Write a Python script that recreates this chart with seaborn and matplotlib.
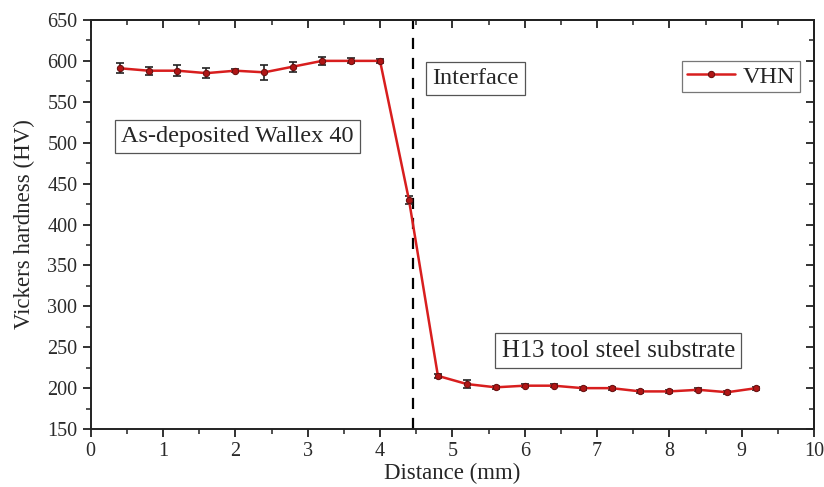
import matplotlib
matplotlib.use("Agg")
import matplotlib.pyplot as plt
import numpy as np
import pandas as pd
import seaborn as sns
from matplotlib.ticker import MultipleLocator

# Microhardness profile across the clad / substrate interface
distance = [0.4, 0.8, 1.2, 1.6, 2.0, 2.4, 2.8, 3.2, 3.6, 4.0, 4.4,
            4.8, 5.2, 5.6, 6.0, 6.4, 6.8, 7.2, 7.6, 8.0, 8.4, 8.8, 9.2]
hardness = [591, 588, 588, 585, 588, 586, 593, 600, 600, 600, 430,
            215, 205, 201, 203, 203, 200, 200, 196, 196, 198, 195, 200]
hv_err = [6, 5, 7, 6, 2, 9, 6, 5, 3, 2, 5,
          2, 5, 2, 2, 2, 2, 2, 2, 2, 2, 2, 2]
interface_x = 4.45

df = pd.DataFrame({"distance": distance, "hardness": hardness, "err": hv_err})

sns.set_theme(style="ticks")
plt.rcParams["font.family"] = ["Liberation Serif", "DejaVu Serif"]

fig, ax = plt.subplots(figsize=(8.24, 4.87), dpi=100)
fig.subplots_adjust(left=0.110, right=0.988, top=0.959, bottom=0.119)

ax.errorbar(df["distance"], df["hardness"], yerr=df["err"], fmt="none",
            ecolor="#222222", elinewidth=1.2, capsize=3, capthick=1.2, zorder=2)
sns.lineplot(data=df, x="distance", y="hardness", ax=ax, color="#d81e1e",
             linewidth=1.8, marker="o", markersize=4.5,
             markerfacecolor="#b01515", markeredgecolor="#6a1010",
             label="VHN", zorder=3)

ax.axvline(interface_x, color="black", linestyle=(0, (5, 4)), linewidth=1.6, zorder=1)

box = dict(boxstyle="square,pad=0.25", facecolor="white", edgecolor="#555555", linewidth=0.9)
ax.text(0.42, 508, "As-deposited Wallex 40", fontsize=17.5, ha="left", va="center", bbox=box)
ax.text(4.72, 578, "Interface", fontsize=17.5, ha="left", va="center", bbox=box)
ax.text(5.68, 246, "H13 tool steel substrate", fontsize=17.8, ha="left", va="center", bbox=box)

ax.set_xlim(0, 10)
ax.set_ylim(150, 650)
ax.xaxis.set_major_locator(MultipleLocator(1))
ax.xaxis.set_minor_locator(MultipleLocator(0.5))
ax.yaxis.set_major_locator(MultipleLocator(50))
ax.yaxis.set_minor_locator(MultipleLocator(25))
ax.set_xlabel("Distance (mm)", fontsize=16.5, labelpad=1)
ax.set_ylabel("Vickers hardness (HV)", fontsize=16.5, labelpad=9)

ax.tick_params(which="both", direction="out", top=False, right=False,
               color="#222222", labelsize=14.5, labelcolor="#2a2a2a")
ax.tick_params(which="major", length=6, width=1.3)
ax.tick_params(which="minor", length=3.5, width=1.1)
sec_x = ax.secondary_xaxis("top")
sec_y = ax.secondary_yaxis("right")
for sec in (sec_x, sec_y):
    sec.tick_params(which="both", direction="in", labelsize=0, color="#222222")
    sec.tick_params(which="major", length=6, width=1.3)
    sec.tick_params(which="minor", length=3.5, width=1.1)
sec_x.xaxis.set_major_locator(MultipleLocator(1))
sec_x.xaxis.set_minor_locator(MultipleLocator(0.5))
sec_x.set_xticklabels([])
sec_y.yaxis.set_major_locator(MultipleLocator(50))
sec_y.yaxis.set_minor_locator(MultipleLocator(25))
sec_y.set_yticklabels([])
for sp in ax.spines.values():
    sp.set_linewidth(1.4)
    sp.set_color("#222222")
for sec in (sec_x, sec_y):
    for sp in sec.spines.values():
        sp.set_linewidth(1.4)
        sp.set_color("#222222")

leg = ax.legend(loc="upper right", bbox_to_anchor=(0.997, 0.93), fontsize=17.5,
                frameon=True, fancybox=False, edgecolor="#555555",
                handlelength=2.0, borderpad=0.2, handletextpad=0.3)
leg.get_frame().set_linewidth(0.9)

fig.savefig("out.png", dpi=100)
